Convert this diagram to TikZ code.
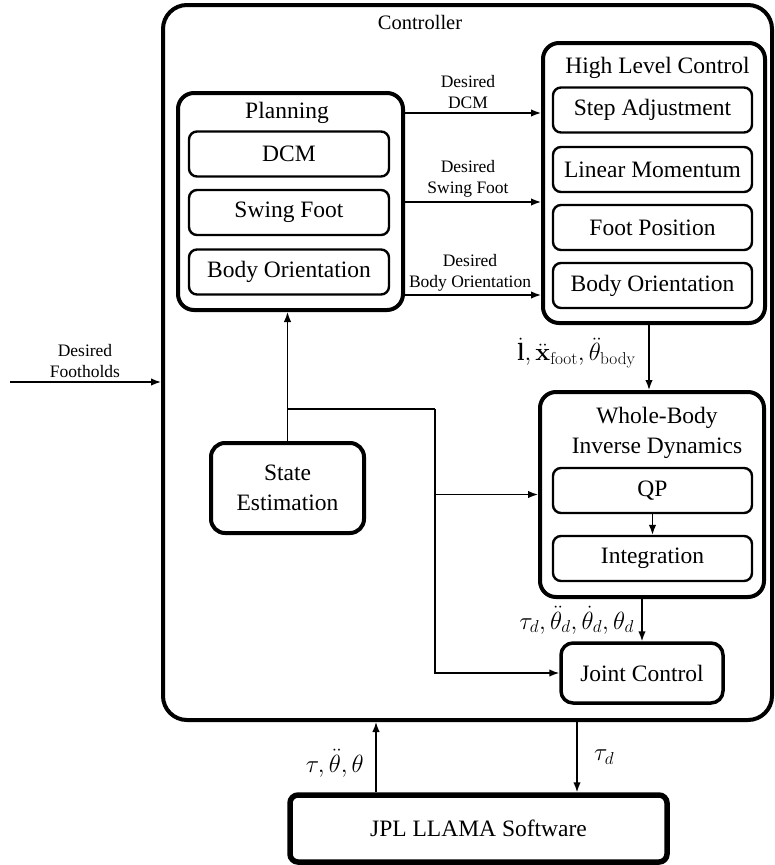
\documentclass[tikz,border=0pt]{standalone}
\usepackage[no-math]{fontspec}
\setmainfont{Liberation Serif}
\usetikzlibrary{arrows.meta,calc}
\begin{document}
\begin{tikzpicture}[x=1pt,y=-1pt,
  bigbox/.style={draw,line width=4pt,rounded corners=16pt,minimum width=#1,inner sep=0pt},
  subbox/.style={draw,line width=2.4pt,rounded corners=8pt,minimum width=200pt,minimum height=45pt,inner sep=0pt,font=\mainfs},
  lbl/.style={inner sep=0pt,align=center,font=\mainfs},
  small/.style={inner sep=0pt,align=center,font=\smallfs},
  mathlbl/.style={inner sep=0pt,font=\mainfs},
  arr/.style={line width=1.5pt,-{Latex[length=10pt,width=7.5pt]}},
  conn/.style={line width=1.5pt}]
\newcommand\mainfs{\fontsize{23.5}{30}\selectfont}
\newcommand\smallfs{\fontsize{17.5}{21}\selectfont}
\useasboundingbox (0,0) rectangle (774,865);
% Controller
\node[bigbox=609pt,minimum height=715pt,rounded corners=24pt] (ctrl) at (467.5,362.5) {};
\node[inner sep=0pt,font=\fontsize{20.5}{24}\selectfont] (ctrltitle) at (420,22) {Controller};
% Planning
\node[bigbox=225pt,minimum height=217pt] (plan) at (290.5,201.5) {};
\node[lbl] (plantitle) at (287,113) {Planning};
\node[subbox] (pdcm) at (289,154) {DCM};
\node[subbox] (pswing) at (289,212.5) {Swing Foot};
\node[subbox] (pbody) at (289,272) {Body Orientation};
% High level control
\node[bigbox=222pt,minimum height=280pt] (hlc) at (654,183) {};
\node[lbl] (hlctitle) at (657.5,68) {High Level Control};
\node[subbox,minimum width=199pt] (hstep) at (652.5,110) {Step Adjustment};
\node[subbox,minimum width=199pt] (hlin) at (652.5,169.5) {Linear Momentum};
\node[subbox,minimum width=199pt] (hfoot) at (652.5,227.5) {Foot Position};
\node[subbox,minimum width=199pt] (hbody) at (652.5,285.5) {Body Orientation};
% WBID
\node[bigbox=224pt,minimum height=205pt] (wbid) at (652,494.5) {};
\node[lbl] (wbidtitle) at (657,433) {Whole-Body\\Inverse Dynamics};
\node[subbox,minimum width=199pt] (qp) at (652.5,490.5) {QP};
\node[subbox,minimum width=199pt] (integ) at (652.5,558.5) {Integration};
% State estimation
\node[bigbox=153pt,minimum height=90pt,rounded corners=14pt,font=\mainfs,align=center] (se) at (287.5,488) {State\\Estimation};
% Joint control
\node[bigbox=162pt,minimum height=60pt,line width=3.5pt,rounded corners=12pt,font=\mainfs] (jc) at (642,673) {Joint Control};
% JPL
\node[draw,line width=5.5pt,rounded corners=8pt,minimum width=377pt,minimum height=67pt,inner sep=0pt,font=\mainfs] (jpl) at (478.5,828.5) {JPL LLAMA Software};
% Planning -> HLC
\draw[arr] (plan.east |- 0,113) -- (hlc.west |- 0,113);
\draw[arr] (plan.east |- 0,202) -- (hlc.west |- 0,202);
\draw[arr] (plan.east |- 0,295) -- (hlc.west |- 0,295);
\node[small] (ldcm) at (468,92) {Desired\\DCM};
\node[small] (lswing) at (468,179) {Desired\\Swing Foot};
\node[small] (lbody) at (470,273) {Desired\\Body Orientation};
% HLC -> WBID
\draw[arr] (hlc.south -| 649,0) -- (wbid.north -| 649,0);
\node[mathlbl,anchor=east] (lacc) at (636,353) {$\dot{\mathbf{l}},\ddot{\mathbf{x}}_{\mathrm{foot}},\ddot{\theta}_{\mathrm{body}}$};
% QP -> Integration
\draw[arr] (qp) -- (integ);
% WBID -> JC
\draw[arr] (wbid.south -| jc.north) -- (jc.north);
\node[mathlbl,anchor=east] (ltau) at (634,620) {$\tau_d,\ddot{\theta}_d,\dot{\theta}_d,\theta_d$};
% State estimation
\draw[arr] (se.north) -- (se.north |- plan.south);
\coordinate (br) at (287.5,409);
\coordinate (turn) at (435,409);
\draw[conn] (br) -- (turn);
\draw[arr] (turn) |- (jc.west);
\draw[arr] (turn |- wbid.west) -- (wbid.west);
% Desired footholds
\coordinate (fh) at (10,382);
\draw[arr] (fh) -- (fh -| ctrl.west);
\node[small] (lfh) at (85,361) {Desired\\Footholds};
% Bottom
\draw[arr] (jpl.north -| 376,0) -- (ctrl.south -| 376,0);
\draw[arr] (ctrl.south -| 577,0) -- (jpl.north -| 577,0);
\node[mathlbl,anchor=east] (lfb) at (364,763) {$\tau,\ddot{\theta},\theta$};
\node[mathlbl,anchor=west] (lcmd) at (594,757) {$\tau_d$};
\end{tikzpicture}
\end{document}
